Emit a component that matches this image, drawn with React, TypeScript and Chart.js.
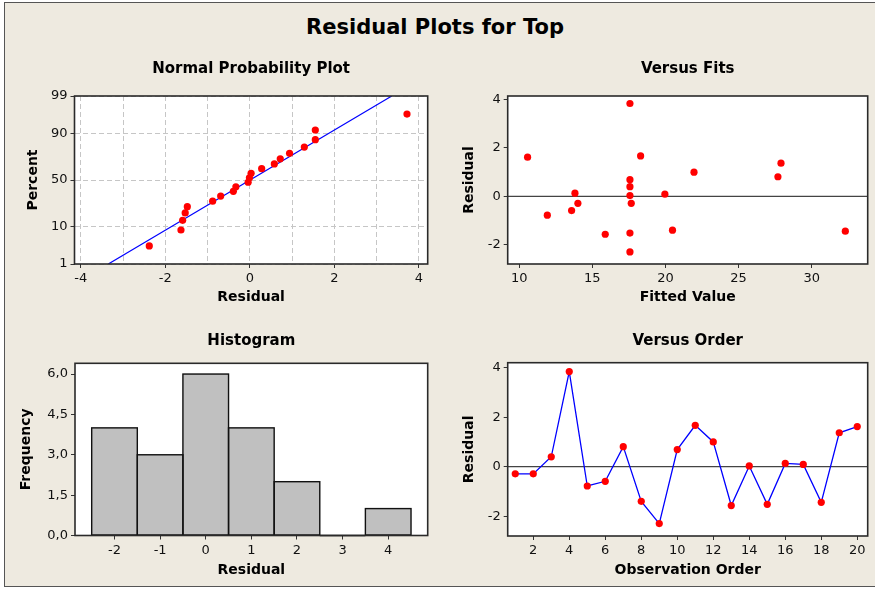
import React, { useEffect, useRef } from 'react';
import { Chart, registerables } from 'chart.js';

Chart.register(...registerables);

const FONT = "'DejaVu Sans', 'Noto Sans', sans-serif";

// ---------- Data ----------
// Normal probability plot: sorted residuals and their plotted percents
const normResiduals = [-2.38, -1.63, -1.59, -1.53, -1.48, -0.88, -0.69, -0.39, -0.33, -0.04, -0.01, 0.03, 0.28, 0.58, 0.72, 0.94, 1.29, 1.55, 1.55, 3.72];
const normPercents = [3.4, 8.3, 13.2, 18.1, 23.0, 27.9, 32.8, 37.7, 42.6, 47.5, 52.5, 57.4, 62.3, 67.2, 72.1, 77.0, 81.9, 86.8, 91.7, 96.6];
// fitted normal line end points (residual, percent)
const normLineResid = [-3.35, 3.36];
const normLinePct = [1, 99];
const normXTicks = [-4, -3, -2, -1, 0, 1, 2, 3, 4];
const normPctTicks = [1, 10, 50, 90, 99];

// Observations in order
const obsOrder = [1, 2, 3, 4, 5, 6, 7, 8, 9, 10, 11, 12, 13, 14, 15, 16, 17, 18, 19, 20];
const residuals = [-0.29, -0.29, 0.40, 3.84, -0.78, -0.59, 0.81, -1.40, -2.30, 0.69, 1.67, 1.00, -1.57, 0.03, -1.52, 0.13, 0.09, -1.44, 1.37, 1.62];
const fittedValues = [14.01, 17.66, 17.57, 17.57, 11.92, 13.58, 27.69, 20.48, 17.57, 17.57, 18.30, 21.95, 15.88, 17.57, 17.57, 13.81, 19.96, 32.30, 27.90, 10.57];

const fitsXTicks = [10, 15, 20, 25, 30];
const residTicks = [-2, 0, 2, 4];
const orderXTicks = [2, 4, 6, 8, 10, 12, 14, 16, 18, 20];

// Histogram
const histBins = [-2, -1, 0, 1, 2, 3, 4];
const histCounts = [4, 3, 6, 4, 2, 0, 1];
const histYTicks = [0, 1.5, 3, 4.5, 6];

// ---------- helpers ----------
function probit(p: number): number {
  const a = [-3.969683028665376e1, 2.209460984245205e2, -2.759285104469687e2, 1.38357751867269e2, -3.066479806614716e1, 2.506628277459239];
  const b = [-5.447609879822406e1, 1.615858368580409e2, -1.556989798598866e2, 6.680131188771972e1, -1.328068155288572e1];
  const c = [-7.784894002430293e-3, -3.223964580411365e-1, -2.400758277161838, -2.549732539343734, 4.374664141464968, 2.938163982698783];
  const d = [7.784695709041462e-3, 3.224671290700398e-1, 2.445134137142996, 3.754408661907416];
  const pl = 0.02425;
  if (p < pl) {
    const q = Math.sqrt(-2 * Math.log(p));
    return (((((c[0] * q + c[1]) * q + c[2]) * q + c[3]) * q + c[4]) * q + c[5]) / ((((d[0] * q + d[1]) * q + d[2]) * q + d[3]) * q + 1);
  }
  if (p <= 1 - pl) {
    const q = p - 0.5;
    const r = q * q;
    return ((((((a[0] * r + a[1]) * r + a[2]) * r + a[3]) * r + a[4]) * r + a[5]) * q) / (((((b[0] * r + b[1]) * r + b[2]) * r + b[3]) * r + b[4]) * r + 1);
  }
  const q = Math.sqrt(-2 * Math.log(1 - p));
  return -(((((c[0] * q + c[1]) * q + c[2]) * q + c[3]) * q + c[4]) * q + c[5]) / ((((d[0] * q + d[1]) * q + d[2]) * q + d[3]) * q + 1);
}

const tickFont = { family: FONT, size: 13 };
const axisTitleFont = { family: FONT, size: 14, weight: 'bold' as const };
const panelTitleFont = { family: FONT, size: 15, weight: 'bold' as const };

type AxisOpts = {
  min: number;
  max: number;
  ticks: number[];
  label: (v: number, i: number) => string;
  title: string;
  titlePad: { top: number; bottom: number };
  size: number;
  vertical: boolean;
  dashedGrid?: boolean;
  markTick?: (v: number) => boolean;
};

function makeAxis(o: AxisOpts): any {
  return {
    type: 'linear',
    bounds: 'data',
    offset: false,
    min: o.min,
    max: o.max,
    afterBuildTicks: (s: any) => {
      s.ticks = o.ticks.map((v) => ({ value: v }));
    },
    afterFit: (s: any) => {
      if (o.vertical) s.width = o.size;
      else s.height = o.size;
    },
    grid: {
      display: true,
      offset: false,
      drawOnChartArea: !!o.dashedGrid,
      color: o.dashedGrid ? '#c6c6c6' : 'transparent',
      lineWidth: 1,
      borderDash: o.dashedGrid ? [5, 3] : [],
      drawTicks: true,
      tickLength: 4,
      tickWidth: 1,
      tickColor: (ctx: any) => (o.markTick && ctx.tick && !o.markTick(ctx.tick.value) ? 'transparent' : '#333'),
    },
    border: { display: false, dash: o.dashedGrid ? [5, 3] : [] },
    ticks: {
      font: tickFont,
      color: '#111',
      padding: 3,
      autoSkip: false,
      maxRotation: 0,
      minRotation: 0,
      callback: (v: any, i: number) => o.label(Number(v), i),
    },
    title: { display: true, text: o.title, font: axisTitleFont, color: '#000', padding: o.titlePad },
  };
}

const decoPlugin = {
  id: 'deco',
  beforeDraw(chart: any) {
    const { ctx, chartArea: a } = chart;
    ctx.save();
    ctx.fillStyle = '#ffffff';
    ctx.fillRect(a.left, a.top, a.right - a.left, a.bottom - a.top);
    ctx.restore();
  },
  beforeDatasetsDraw(chart: any, _args: any, opts: any) {
    if (!opts || !opts.zeroLine) return;
    const { ctx, chartArea: a } = chart;
    const y = chart.scales.y.getPixelForValue(0);
    ctx.save();
    ctx.strokeStyle = '#444';
    ctx.lineWidth = 1.3;
    ctx.beginPath();
    ctx.moveTo(a.left, y);
    ctx.lineTo(a.right, y);
    ctx.stroke();
    ctx.restore();
  },
  afterDatasetsDraw(chart: any, _args: any, opts: any) {
    if (!opts || !opts.barOutline) return;
    const { ctx } = chart;
    ctx.save();
    ctx.strokeStyle = '#111';
    ctx.lineWidth = 1.4;
    chart.getDatasetMeta(0).data.forEach((bar: any) => {
      const p = bar.getProps(['x', 'y', 'base', 'width'], true);
      ctx.strokeRect(p.x - p.width / 2, p.y, p.width, p.base - p.y);
    });
    ctx.restore();
  },
  afterDraw(chart: any) {
    const { ctx, chartArea: a } = chart;
    ctx.save();
    ctx.strokeStyle = '#2a2a2a';
    ctx.lineWidth = 1.6;
    ctx.strokeRect(a.left, a.top, a.right - a.left, a.bottom - a.top);
    ctx.restore();
  },
};

function baseOptions(title: string, titlePad: { top: number; bottom: number }, padRight: number, scales: any, deco: any): any {
  return {
    animation: false,
    responsive: false,
    maintainAspectRatio: false,
    layout: { autoPadding: false, padding: { left: 0, right: padRight, top: 0, bottom: 0 } },
    plugins: {
      legend: { display: false },
      tooltip: { enabled: false },
      title: { display: true, text: title, fullSize: false, font: panelTitleFont, color: '#000', padding: titlePad },
      deco,
    },
    scales,
  };
}

const RED = '#ff0000';
const BLUE = '#0000ff';

function normalConfig(): any {
  return {
    type: 'scatter',
    data: {
      datasets: [
        {
          data: normResiduals.map((r, i) => ({ x: r, y: probit(normPercents[i] / 100) })),
          pointRadius: 3.6,
          pointBackgroundColor: RED,
          pointBorderWidth: 0,
          showLine: false,
        },
        {
          data: normLineResid.map((r, i) => ({ x: r, y: probit(normLinePct[i] / 100) })),
          showLine: true,
          borderColor: BLUE,
          borderWidth: 1.2,
          pointRadius: 0,
        },
      ],
    },
    options: baseOptions('Normal Probability Plot', { top: 10.5, bottom: 17.5 }, 12.3, {
      x: makeAxis({
        min: -4.15, max: 4.21, ticks: normXTicks,
        label: (v) => (v % 2 === 0 ? String(v) : ''),
        markTick: (v) => v % 2 === 0,
        title: 'Residual', titlePad: { top: 0, bottom: 9.6 }, size: 51, vertical: false, dashedGrid: true,
      }),
      y: makeAxis({
        min: probit(0.01), max: probit(0.99), ticks: normPctTicks.map((p) => probit(p / 100)),
        label: (_v, i) => String(normPctTicks[i]),
        title: 'Percent', titlePad: { top: 25, bottom: 0 }, size: 74.5, vertical: true, dashedGrid: true,
      }),
    }, {}),
    plugins: [decoPlugin],
  };
}

function fitsConfig(): any {
  return {
    type: 'scatter',
    data: {
      datasets: [
        {
          data: fittedValues.map((f, i) => ({ x: f, y: residuals[i] })),
          pointRadius: 3.6,
          pointBackgroundColor: RED,
          pointBorderWidth: 0,
        },
      ],
    },
    options: baseOptions('Versus Fits', { top: 10.5, bottom: 17.5 }, 7.3, {
      x: makeAxis({
        min: 9.21, max: 33.83, ticks: fitsXTicks, label: (v) => String(v),
        title: 'Fitted Value', titlePad: { top: 0, bottom: 9.6 }, size: 51, vertical: false,
      }),
      y: makeAxis({
        min: -2.8, max: 4.15, ticks: residTicks, label: (v) => String(v),
        title: 'Residual', titlePad: { top: 20.7, bottom: 0 }, size: 67.7, vertical: true,
      }),
    }, { zeroLine: true }),
    plugins: [decoPlugin],
  };
}

function histConfig(): any {
  return {
    type: 'bar',
    data: {
      datasets: [
        {
          data: histBins.map((b, i) => ({ x: b, y: histCounts[i] })),
          backgroundColor: '#c0c0c0',
          borderWidth: 0,
          categoryPercentage: 1,
          barPercentage: 1,
        },
      ],
    },
    options: baseOptions('Histogram', { top: 12, bottom: 13.3 }, 12.3, {
      x: makeAxis({
        min: -2.866, max: 4.866, ticks: histBins, label: (v) => String(v),
        title: 'Residual', titlePad: { top: 0, bottom: 11.6 }, size: 54.5, vertical: false,
      }),
      y: makeAxis({
        min: 0, max: 6.4, ticks: histYTicks, label: (v) => v.toFixed(1).replace('.', ','),
        title: 'Frequency', titlePad: { top: 18.1, bottom: 0 }, size: 75, vertical: true,
      }),
    }, { barOutline: true }),
    plugins: [decoPlugin],
  };
}

function orderConfig(): any {
  return {
    type: 'scatter',
    data: {
      datasets: [
        {
          data: obsOrder.map((o, i) => ({ x: o, y: residuals[i] })),
          showLine: true,
          borderColor: BLUE,
          borderWidth: 1.3,
          pointRadius: 3.6,
          pointBackgroundColor: RED,
          pointBorderWidth: 0,
        },
      ],
    },
    options: baseOptions('Versus Order', { top: 12, bottom: 12.7 }, 7.3, {
      x: makeAxis({
        min: 0.58, max: 20.58, ticks: orderXTicks, label: (v) => String(v),
        title: 'Observation Order', titlePad: { top: 0, bottom: 11.6 }, size: 54, vertical: false,
      }),
      y: makeAxis({
        min: -2.8, max: 4.2, ticks: residTicks, label: (v) => String(v),
        title: 'Residual', titlePad: { top: 20.7, bottom: 0 }, size: 67.7, vertical: true,
      }),
    }, { zeroLine: true }),
    plugins: [decoPlugin],
  };
}

function Panel(props: { x: number; y: number; w: number; h: number; make: () => any }) {
  const ref = useRef<HTMLCanvasElement | null>(null);
  useEffect(() => {
    if (!ref.current) return;
    const chart = new Chart(ref.current, props.make());
    return () => chart.destroy();
  }, []);
  return (
    <canvas
      ref={ref}
      width={props.w}
      height={props.h}
      style={{ position: 'absolute', left: props.x, top: props.y, width: props.w, height: props.h }}
    />
  );
}

export default function App() {
  return (
    <div style={{ position: 'absolute', left: 0, top: 0, width: 875, height: 590, background: '#ffffff', overflow: 'hidden' }}>
      <div
        style={{
          position: 'absolute', left: 4, top: 1.5, width: 900, height: 585, boxSizing: 'border-box',
          background: '#eeeae0', borderLeft: '1.5px solid #555', borderTop: '1.5px solid #555', borderBottom: '1.5px solid #555',
        }}
      />
      <div
        style={{
          position: 'absolute', left: 0, top: 15, width: 870, textAlign: 'center',
          fontFamily: FONT, fontWeight: 'bold', fontSize: 21, lineHeight: '24px', color: '#000',
        }}
      >
        Residual Plots for Top
      </div>
      <Panel x={0} y={50} w={440} h={265} make={normalConfig} />
      <Panel x={440} y={50} w={435} h={265} make={fitsConfig} />
      <Panel x={0} y={320} w={440} h={270} make={histConfig} />
      <Panel x={440} y={320} w={435} h={270} make={orderConfig} />
    </div>
  );
}
